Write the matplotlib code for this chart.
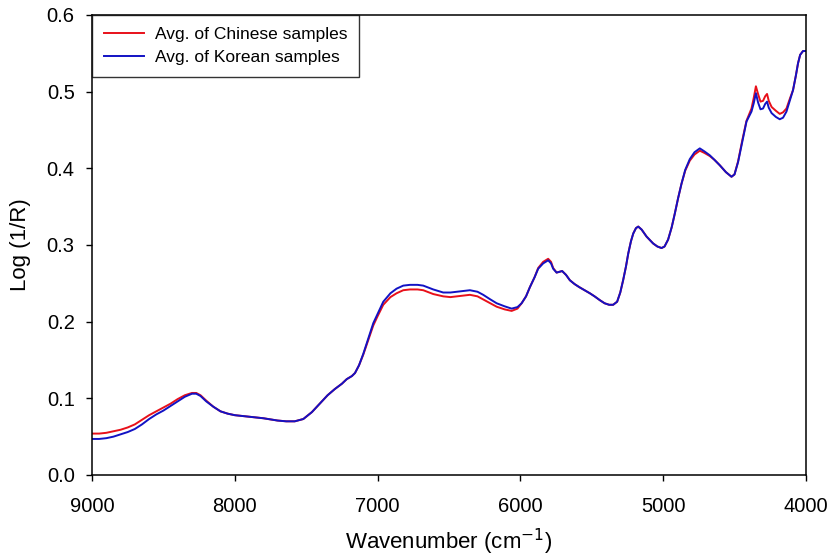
import numpy as np
import matplotlib.pyplot as plt

plt.rcParams['font.family'] = ['Liberation Sans', 'DejaVu Sans']

wavenumber = [9000, 8950, 8900, 8850, 8800, 8750, 8700, 8650, 8600, 8550,
              8500, 8450, 8400, 8350, 8300, 8270, 8240, 8200, 8150, 8100,
              8050, 8000, 7900, 7800, 7700, 7640, 7580, 7520, 7460, 7400,
              7350, 7300, 7250, 7216, 7180, 7158, 7130, 7100, 7065, 7030,
              7000, 6960, 6910, 6867, 6820, 6773, 6720, 6680, 6610, 6540,
              6490, 6446, 6400, 6353, 6300, 6260, 6210, 6166, 6110, 6061,
              6020, 5991, 5960, 5933, 5900, 5875, 5840, 5805, 5785, 5770,
              5746, 5725, 5707, 5680, 5653, 5620, 5587, 5550, 5513, 5480,
              5443, 5410, 5378, 5350, 5322, 5300, 5280, 5260, 5244, 5225,
              5209, 5190, 5174, 5150, 5116, 5090, 5070, 5040, 5011, 4990,
              4965, 4940, 4918, 4895, 4871, 4845, 4813, 4780, 4743, 4710,
              4673, 4640, 4603, 4560, 4521, 4500, 4475, 4445, 4416, 4381,
              4365, 4350, 4335, 4318, 4300, 4285, 4272, 4260, 4240, 4210,
              4183, 4160, 4136, 4110, 4090, 4070, 4055, 4040, 4020, 4000]

# Avg. of Korean samples
korean = [0.047, 0.047, 0.048, 0.050, 0.053, 0.056, 0.060, 0.066, 0.073, 0.079,
          0.084, 0.090, 0.096, 0.102, 0.106, 0.106, 0.103, 0.096, 0.089, 0.083,
          0.080, 0.078, 0.076, 0.074, 0.071, 0.070, 0.070, 0.073, 0.082, 0.094,
          0.104, 0.112, 0.119, 0.125, 0.129, 0.133, 0.143, 0.158, 0.178, 0.198,
          0.210, 0.226, 0.237, 0.243, 0.247, 0.248, 0.248, 0.247, 0.242, 0.238,
          0.238, 0.239, 0.240, 0.241, 0.239, 0.235, 0.229, 0.224, 0.220, 0.217,
          0.219, 0.224, 0.233, 0.245, 0.258, 0.269, 0.276, 0.280, 0.276, 0.269,
          0.264, 0.265, 0.266, 0.261, 0.254, 0.249, 0.245, 0.241, 0.237, 0.233,
          0.228, 0.224, 0.222, 0.222, 0.226, 0.238, 0.254, 0.272, 0.289, 0.305,
          0.315, 0.322, 0.324, 0.320, 0.311, 0.306, 0.302, 0.298, 0.296, 0.298,
          0.307, 0.323, 0.341, 0.361, 0.380, 0.398, 0.412, 0.421, 0.426, 0.422,
          0.417, 0.411, 0.404, 0.395, 0.389, 0.392, 0.408, 0.435, 0.461, 0.474,
          0.485, 0.498, 0.486, 0.477, 0.478, 0.484, 0.487, 0.479, 0.472, 0.467,
          0.464, 0.466, 0.474, 0.490, 0.502, 0.521, 0.537, 0.548, 0.553, 0.553]

# Avg. of Chinese samples
chinese = [0.054, 0.054, 0.055, 0.057, 0.059, 0.062, 0.066, 0.072, 0.078, 0.083,
           0.088, 0.093, 0.099, 0.104, 0.107, 0.107, 0.104, 0.097, 0.089, 0.083,
           0.080, 0.078, 0.076, 0.074, 0.071, 0.070, 0.070, 0.073, 0.082, 0.094,
           0.104, 0.112, 0.119, 0.125, 0.129, 0.133, 0.143, 0.157, 0.176, 0.195,
           0.207, 0.222, 0.232, 0.237, 0.241, 0.242, 0.242, 0.241, 0.236, 0.233,
           0.232, 0.233, 0.234, 0.235, 0.233, 0.229, 0.224, 0.2195, 0.216, 0.214,
           0.217, 0.224, 0.233, 0.245, 0.258, 0.270, 0.278, 0.282, 0.278, 0.270,
           0.264, 0.265, 0.266, 0.261, 0.254, 0.249, 0.245, 0.241, 0.237, 0.233,
           0.228, 0.224, 0.222, 0.222, 0.226, 0.238, 0.254, 0.272, 0.289, 0.305,
           0.315, 0.322, 0.324, 0.320, 0.311, 0.306, 0.302, 0.298, 0.296, 0.298,
           0.307, 0.323, 0.341, 0.361, 0.380, 0.397, 0.410, 0.418, 0.423, 0.420,
           0.416, 0.411, 0.404, 0.395, 0.389, 0.392, 0.409, 0.437, 0.462, 0.478,
           0.492, 0.507, 0.497, 0.487, 0.488, 0.494, 0.497, 0.488, 0.480, 0.475,
           0.471, 0.473, 0.478, 0.492, 0.502, 0.521, 0.537, 0.548, 0.553, 0.553]

fig = plt.figure(figsize=(8.32, 5.59), dpi=100)
ax = fig.add_axes([0.1106, 0.1503, 0.858, 0.8229])

ax.plot(wavenumber, chinese, color='#e8101a', lw=1.4, label='Avg. of Chinese samples')
ax.plot(wavenumber, korean, color='#1212c4', lw=1.4, label='Avg. of Korean samples')

ax.set_xlim(9000, 4000)
ax.set_ylim(0, 0.6)
ax.set_xticks([9000, 8000, 7000, 6000, 5000, 4000])
ax.set_yticks([0.0, 0.1, 0.2, 0.3, 0.4, 0.5, 0.6])
ax.set_yticklabels(['0.0', '0.1', '0.2', '0.3', '0.4', '0.5', '0.6'])
ax.tick_params(direction='out', length=4.5, width=1, labelsize=14.5, colors='black')
ax.tick_params(axis='x', pad=11)
ax.tick_params(axis='y', pad=8)
for s in ax.spines.values():
    s.set_linewidth(1.1)

ax.set_xlabel('Wavenumber (cm$^{-1}$)', fontsize=16, labelpad=8)
ax.set_ylabel('Log (1/R)', fontsize=16, labelpad=11)

leg = ax.legend(loc='upper left', fontsize=12.5, frameon=True, fancybox=False,
                borderaxespad=0, handlelength=2.3, borderpad=0.7,
                labelspacing=0.45, handletextpad=0.6)
leg.get_frame().set_edgecolor('black')
leg.get_frame().set_linewidth(1.0)

fig.savefig('out.png', dpi=100)
